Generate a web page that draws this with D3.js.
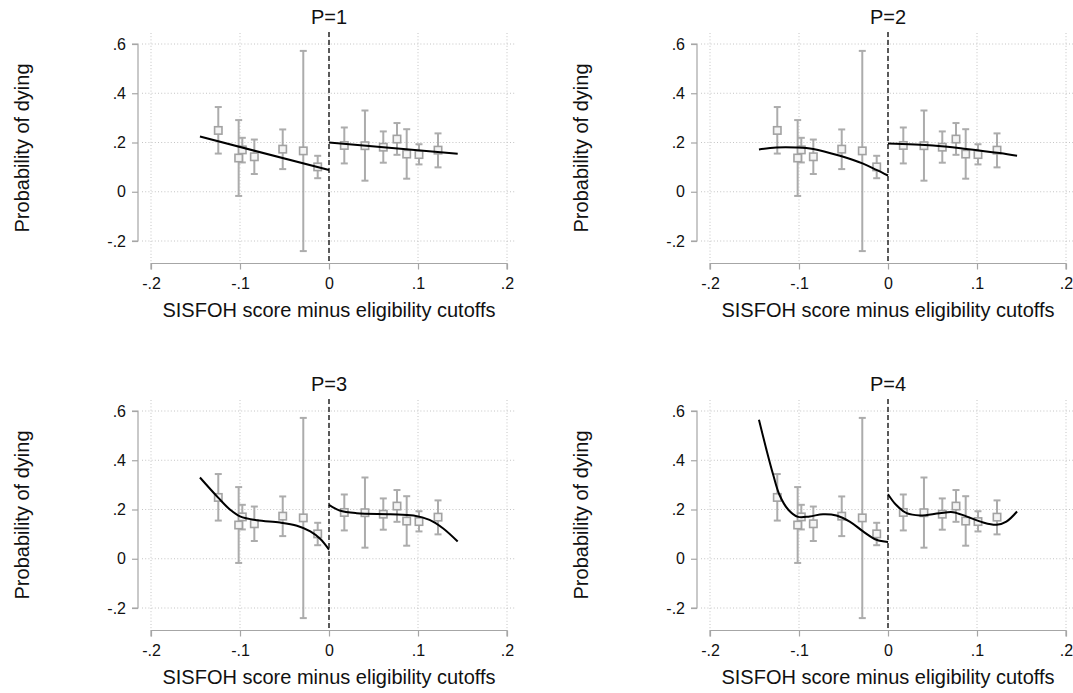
<!DOCTYPE html>
<html>
<head>
<meta charset="utf-8">
<script src="https://cdn.jsdelivr.net/npm/d3@7"></script>
<style>
  body { margin: 0; background: #fff; }
  svg { display: block; }
  text { font-family: "Liberation Sans", Arial, Helvetica, sans-serif; fill: #111; }
</style>
</head>
<body>
<svg id="chart" width="1073" height="693"></svg>
<script>
// ---- Data ----
const panelTitles = ["P=1", "P=2", "P=3", "P=4"];
const xTicks = [-0.2, -0.1, 0, 0.1, 0.2];
const xTickLabels = ["-.2", "-.1", "0", ".1", ".2"];
const yTicks = [-0.2, 0, 0.2, 0.4, 0.6];
const yTickLabels = ["-.2", "0", ".2", ".4", ".6"];

// binned means with 95% CI (same in all panels)
const binX  = [-0.1244, -0.1015, -0.0974, -0.0839, -0.0520, -0.0289, -0.0127, 0.0172, 0.0404, 0.0610, 0.0764, 0.0873, 0.1011, 0.1225];
const binY  = [0.249, 0.137, 0.170, 0.142, 0.173, 0.166, 0.101, 0.188, 0.187, 0.181, 0.214, 0.153, 0.151, 0.169];
const binLo = [0.155, -0.017, 0.119, 0.072, 0.092, -0.241, 0.055, 0.115, 0.045, 0.118, 0.150, 0.053, 0.111, 0.099];
const binHi = [0.344, 0.291, 0.219, 0.212, 0.253, 0.572, 0.146, 0.261, 0.330, 0.245, 0.279, 0.254, 0.193, 0.237];

// fitted polynomial curves [x, y]
const fitP1Left  = [[-0.145, 0.224], [0, 0.088]];
const fitP1Right = [[0, 0.200], [0.1446, 0.154]];
const fitP2Left  = [[-0.145, 0.172], [-0.1255, 0.180], [-0.103, 0.180], [-0.084, 0.174], [-0.054, 0.146], [-0.028, 0.114], [-0.013, 0.089], [0, 0.066]];
const fitP2Right = [[0, 0.196], [0.0506, 0.188], [0.088, 0.174], [0.1255, 0.157], [0.145, 0.146]];
const fitP3Left  = [[-0.145, 0.330], [-0.124, 0.246], [-0.111, 0.199], [-0.100, 0.172], [-0.081, 0.156], [-0.055, 0.147], [-0.036, 0.134], [-0.021, 0.111], [-0.010, 0.081], [0, 0.037]];
const fitP3Right = [[0, 0.219], [0.012, 0.196], [0.031, 0.185], [0.069, 0.181], [0.095, 0.176], [0.113, 0.158], [0.128, 0.124], [0.1446, 0.070]];
const fitP4Left  = [[-0.145, 0.564], [-0.137, 0.449], [-0.129, 0.341], [-0.122, 0.260], [-0.112, 0.199], [-0.101, 0.170], [-0.088, 0.172], [-0.073, 0.181], [-0.058, 0.176], [-0.043, 0.151], [-0.028, 0.111], [-0.013, 0.077], [0, 0.068]];
const fitP4Right = [[0, 0.262], [0.009, 0.219], [0.021, 0.185], [0.036, 0.176], [0.058, 0.185], [0.073, 0.189], [0.088, 0.172], [0.107, 0.147], [0.122, 0.138], [0.133, 0.151], [0.145, 0.192]];

const fits = [[fitP1Left, fitP1Right], [fitP2Left, fitP2Right], [fitP3Left, fitP3Right], [fitP4Left, fitP4Right]];

const xTitle = "SISFOH score minus eligibility cutoffs";
const yTitle = "Probability of dying";

// ---- Drawing ----
const svg = d3.select("#chart");
const offsets = [[0, 0], [559, 0], [0, 367], [559, 367]];

const axisColor = "#a6a6a6";
const gridColor = "#c4c4c4";
const ciColor = "#acacac";

offsets.forEach(([ox, oy], i) => {
  const g = svg.append("g").attr("transform", `translate(${ox},${oy})`);
  const x = d3.scaleLinear().domain([-0.2, 0.2]).range([151, 507]);
  const y = d3.scaleLinear().domain([-0.2, 0.6]).range([241, 44]);
  const plotTop = 33, plotBottom = 262, plotLeft = 142, plotRight = 516;

  // grid
  g.append("g").selectAll("line.hg").data(yTicks).join("line")
    .attr("x1", plotLeft).attr("x2", plotRight)
    .attr("y1", d => y(d)).attr("y2", d => y(d))
    .attr("stroke", gridColor).attr("stroke-width", 1).attr("stroke-dasharray", "1,2.2");
  g.append("g").selectAll("line.vg").data(xTicks).join("line")
    .attr("x1", d => x(d)).attr("x2", d => x(d))
    .attr("y1", plotTop).attr("y2", plotBottom)
    .attr("stroke", gridColor).attr("stroke-width", 1).attr("stroke-dasharray", "1,2.2");

  // y axis
  const yAxis = d3.axisLeft(y).tickValues(yTicks)
    .tickFormat((d, k) => yTickLabels[k]).tickSize(6).tickPadding(6);
  const ya = g.append("g").attr("transform", "translate(138,0)").call(yAxis);
  ya.select(".domain").attr("d", `M-6,${y(0.6)}H0V${y(-0.2)}H-6`).attr("stroke", axisColor).attr("stroke-width", 1.2).attr("fill", "none");
  ya.selectAll(".tick line").attr("stroke", axisColor).attr("stroke-width", 1.2);
  ya.selectAll(".tick text").style("font-size", "16px").attr("fill", "#111");

  // x axis
  const xAxis = d3.axisBottom(x).tickValues(xTicks)
    .tickFormat((d, k) => xTickLabels[k]).tickSize(6).tickPadding(8);
  const xa = g.append("g").attr("transform", "translate(0,263.5)").call(xAxis);
  xa.select(".domain").attr("d", `M${x(-0.2)},6V0H${x(0.2)}V6`).attr("stroke", axisColor).attr("stroke-width", 1.2).attr("fill", "none");
  xa.selectAll(".tick line").attr("stroke", axisColor).attr("stroke-width", 1.2);
  xa.selectAll(".tick text").style("font-size", "16px").attr("fill", "#111");

  // titles
  g.append("text").attr("x", x(0)).attr("y", 24).attr("text-anchor", "middle")
    .style("font-size", "20px").text(panelTitles[i]);
  g.append("text").attr("x", x(0)).attr("y", 317).attr("text-anchor", "middle")
    .style("font-size", "20px").text(xTitle);
  g.append("text").attr("transform", `translate(29,${148}) rotate(-90)`).attr("text-anchor", "middle")
    .style("font-size", "20px").text(yTitle);

  // error bars
  const eb = g.append("g");
  binX.forEach((bx, k) => {
    const cx = x(bx);
    eb.append("line").attr("x1", cx).attr("x2", cx).attr("y1", y(binLo[k])).attr("y2", y(binHi[k]))
      .attr("stroke", ciColor).attr("stroke-width", 2);
    [binLo[k], binHi[k]].forEach(v => {
      eb.append("line").attr("x1", cx - 3.5).attr("x2", cx + 3.5).attr("y1", y(v)).attr("y2", y(v))
        .attr("stroke", ciColor).attr("stroke-width", 2);
    });
  });

  // markers
  g.append("g").selectAll("rect").data(binX).join("rect")
    .attr("x", (d) => x(d) - 3.7).attr("y", (d, k) => y(binY[k]) - 3.7)
    .attr("width", 7.4).attr("height", 7.4)
    .attr("fill", "#f4f4f4").attr("stroke", "#a2a2a2").attr("stroke-width", 1.6);

  // cutoff dashed line
  g.append("line").attr("x1", x(0)).attr("x2", x(0)).attr("y1", 32).attr("y2", 263.5)
    .attr("stroke", "#333").attr("stroke-width", 1.6).attr("stroke-dasharray", "5,3");

  // fitted curves
  const line = d3.line().x(d => x(d[0])).y(d => y(d[1])).curve(d3.curveCatmullRom.alpha(0.5));
  fits[i].forEach(seg => {
    g.append("path").attr("d", line(seg)).attr("fill", "none")
      .attr("stroke", "#000").attr("stroke-width", 2);
  });
});
</script>
</body>
</html>
